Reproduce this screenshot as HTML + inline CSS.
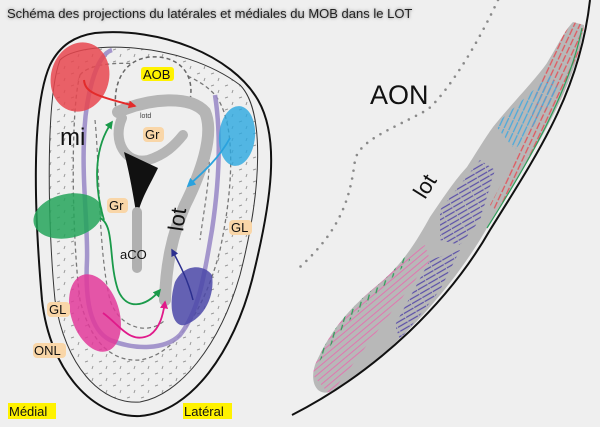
<!DOCTYPE html>
<html><head><meta charset="utf-8"><style>
html,body{margin:0;padding:0;background:#efefef;}
svg{display:block;}
.t{font-family:"Liberation Sans",Arial,sans-serif;}
</style></head><body>
<svg width="600" height="427" viewBox="0 0 600 427" xmlns="http://www.w3.org/2000/svg">
<defs>
<filter id="sh" x="-5%" y="-50%" width="110%" height="200%"><feGaussianBlur stdDeviation="1.6"/></filter>
<pattern id="pr" width="5" height="9" patternUnits="userSpaceOnUse" patternTransform="rotate(25)"><line x1="1" y1="0" x2="1" y2="7" stroke="#e0575e" stroke-width="1.3"/></pattern>
<pattern id="pb" width="5" height="12" patternUnits="userSpaceOnUse" patternTransform="rotate(25)"><line x1="1" y1="0" x2="1" y2="11" stroke="#4aa9dc" stroke-width="1.3"/></pattern>
<pattern id="pp" width="4.5" height="12" patternUnits="userSpaceOnUse" patternTransform="rotate(60)"><line x1="1" y1="0" x2="1" y2="11" stroke="#5a4fa8" stroke-width="1.2"/></pattern>
<pattern id="pg" width="6" height="9" patternUnits="userSpaceOnUse" patternTransform="rotate(15)"><line x1="1" y1="0" x2="1" y2="6" stroke="#2e9e5a" stroke-width="1.3"/></pattern>
<pattern id="pm" width="12" height="5" patternUnits="userSpaceOnUse" patternTransform="rotate(-40)"><line x1="0" y1="1" x2="12" y2="1" stroke="#e077b0" stroke-width="1"/></pattern>
<pattern id="dots" width="14" height="12" patternUnits="userSpaceOnUse"><line x1="1" y1="2" x2="4" y2="1" stroke="#999" stroke-width="1"/><line x1="8" y1="9" x2="9" y2="6" stroke="#999" stroke-width="1"/></pattern>
<marker id="ar" viewBox="0 0 10 10" refX="8" refY="5" markerWidth="4" markerHeight="4" orient="auto"><path d="M0,0L10,5L0,10z" fill="#e32b2b"/></marker>
<marker id="ag" viewBox="0 0 10 10" refX="8" refY="5" markerWidth="4.5" markerHeight="4.5" orient="auto"><path d="M0,0L10,5L0,10z" fill="#1a9a4a"/></marker>
<marker id="ab" viewBox="0 0 10 10" refX="8" refY="5" markerWidth="5" markerHeight="5" orient="auto"><path d="M0,0L10,5L0,10z" fill="#2aa2de"/></marker>
<marker id="am" viewBox="0 0 10 10" refX="8" refY="5" markerWidth="4.5" markerHeight="4.5" orient="auto"><path d="M0,0L10,5L0,10z" fill="#e01a8a"/></marker>
<marker id="an" viewBox="0 0 10 10" refX="8" refY="5" markerWidth="5" markerHeight="5" orient="auto"><path d="M0,0L10,5L0,10z" fill="#2b2f8f"/></marker>
<clipPath id="lotc"><path id="lotp" d="M315,365 C335,320 360,300 380,283 C405,262 420,235 430,217 C445,195 455,180 467,167 C478,150 485,138 493,127 C515,100 535,80 547,63 C558,45 565,30 573,22 L584,25 C577,85 535,150 487,228 C447,298 380,365 330,392 C315,396 310,380 315,365 Z"/></clipPath>
</defs>

<text class="t" x="7" y="18" font-size="13" fill="#777" filter="url(#sh)">Schéma des projections du latérales et médiales du MOB dans le LOT</text>
<text class="t" x="7" y="18" font-size="13" fill="#222">Schéma des projections du latérales et médiales du MOB dans le LOT</text>

<!-- LEFT BULB -->
<path d="M95,33 C160,27 232,55 258,100 C280,138 272,200 252,280 C234,350 192,412 140,416 C94,418 50,372 42,300 C35,220 30,110 50,65 C60,45 75,36 95,33 Z" fill="#efefef" stroke="#111" stroke-width="2"/>
<path d="M60,60 C80,40 180,40 240,85 C265,110 262,190 240,275 C220,345 180,395 140,402 C100,405 65,365 55,300 C48,230 45,100 60,60 Z" fill="url(#dots)" stroke="#333" stroke-width="1"/>
<path d="M80,75 C95,55 185,60 215,95 C235,120 235,180 220,250 C205,310 175,355 140,360 C110,362 90,340 80,300 C72,240 70,110 80,75 Z" fill="#efefef" stroke="#777" stroke-width="1.3" stroke-dasharray="4,3"/>
<path d="M118,120 C110,90 120,60 150,57 C180,55 195,75 190,100" fill="#efefef" stroke="#666" stroke-width="1.5" stroke-dasharray="4,3"/>
<path d="M95,120 C100,170 98,250 110,300 C120,330 150,335 165,320" fill="none" stroke="#777" stroke-width="1.2" stroke-dasharray="4,3"/>
<path d="M205,120 C215,160 205,200 200,240" fill="none" stroke="#777" stroke-width="1.2" stroke-dasharray="4,3"/>

<path d="M112,50 C95,55 85,100 84,140 C82,180 88,230 87,260 C85,300 90,330 110,340 C135,350 165,350 180,335 C200,310 205,270 212,230 C218,190 222,140 215,95" fill="none" stroke="#9b8cc8" stroke-width="4.5" opacity="0.9"/>

<path d="M118,112 C150,98 190,95 205,112 C215,135 200,175 185,205 C172,235 166,265 165,300" fill="none" stroke="#b5b5b5" stroke-width="12" stroke-linecap="round"/>
<path d="M122,118 C112,140 125,165 148,160 C165,155 175,145 183,135" fill="none" stroke="#b5b5b5" stroke-width="10" stroke-linecap="round"/>
<path d="M124,152 L158,168 C150,185 140,200 137,218 C134,200 130,175 124,152 Z" fill="#111"/>
<path d="M137,212 L137,268" stroke="#b0b0b0" stroke-width="10" stroke-linecap="round"/>

<ellipse cx="80" cy="77" rx="29" ry="35" transform="rotate(15 80 77)" fill="#e8474f" opacity="0.85"/>
<ellipse cx="68" cy="216" rx="35" ry="22" transform="rotate(-12 68 216)" fill="#25a55a" opacity="0.85"/>
<ellipse cx="237" cy="136" rx="18" ry="30" transform="rotate(5 237 136)" fill="#2aa8e0" opacity="0.8"/>
<ellipse cx="95" cy="313" rx="24" ry="40" transform="rotate(-18 95 313)" fill="#e23a9a" opacity="0.85"/>
<path d="M175,282 C185,262 205,265 212,275 C215,295 205,318 185,325 C172,328 168,305 175,282 Z" fill="#4b48a8" opacity="0.85"/>

<path d="M84,80 C85,92 95,96 135,106" fill="none" stroke="#e32b2b" stroke-width="2" marker-end="url(#ar)"/>
<path d="M104,220 C95,190 92,150 112,122" fill="none" stroke="#1a9a4a" stroke-width="1.8" marker-end="url(#ag)"/>
<path d="M100,218 C115,225 108,260 118,290 C126,310 145,308 160,290" fill="none" stroke="#1a9a4a" stroke-width="1.8" marker-end="url(#ag)"/>
<path d="M230,138 C218,160 200,175 188,186" fill="none" stroke="#2aa2de" stroke-width="1.8" marker-end="url(#ab)"/>
<path d="M103,313 C120,325 130,345 150,335 C160,328 163,315 165,302" fill="none" stroke="#e01a8a" stroke-width="1.8" marker-end="url(#am)"/>
<path d="M193,300 C188,280 180,265 172,250" fill="none" stroke="#2b2f8f" stroke-width="1.5" marker-end="url(#an)"/>

<rect x="141" y="67" width="33" height="14" rx="3" fill="#fff200"/>
<text class="t" x="143" y="79" font-size="13" fill="#111">AOB</text>
<text class="t" x="140" y="118" font-size="7" fill="#444">lotd</text>
<rect x="143" y="127" width="21" height="15" rx="4" fill="#f9d6a8"/>
<text class="t" x="145" y="139" font-size="13" fill="#111">Gr</text>
<rect x="107" y="198" width="21" height="15" rx="4" fill="#f9d6a8"/>
<text class="t" x="109" y="210" font-size="13" fill="#111">Gr</text>
<text class="t" x="60" y="145" font-size="24" fill="#111">mi</text>
<text class="t" x="120" y="259" font-size="13" fill="#111">aCO</text>
<text class="t" x="0" y="0" font-size="22" fill="#111" transform="translate(183,232) rotate(-82)">lot</text>
<rect x="229" y="220" width="23" height="15" rx="4" fill="#f9d6a8"/>
<text class="t" x="231" y="232" font-size="13" fill="#111">GL</text>
<rect x="47" y="302" width="23" height="15" rx="4" fill="#f9d6a8"/>
<text class="t" x="49" y="314" font-size="13" fill="#111">GL</text>
<rect x="33" y="343" width="33" height="15" rx="4" fill="#f9d6a8"/>
<text class="t" x="34" y="355" font-size="13" fill="#111">ONL</text>
<rect x="8" y="403" width="48" height="16" fill="#fff200"/>
<text class="t" x="9" y="416" font-size="13" fill="#111">Médial</text>
<rect x="183" y="403" width="49" height="16" fill="#fff200"/>
<text class="t" x="184" y="416" font-size="13" fill="#111">Latéral</text>

<!-- RIGHT -->
<path d="M498,0 C470,60 440,100 427,110 C390,130 360,140 355,160 C350,200 340,230 300,267" fill="none" stroke="#8a8a8a" stroke-width="2.6" stroke-dasharray="0,8" stroke-linecap="round"/>
<path d="M315,365 C335,320 360,300 380,283 C405,262 420,235 430,217 C445,195 455,180 467,167 C478,150 485,138 493,127 C515,100 535,80 547,63 C558,45 565,30 573,22 L584,25 C577,85 535,150 487,228 C447,298 380,365 330,392 C315,396 310,380 315,365 Z" fill="#b8b8b8"/>
<g clip-path="url(#lotc)">
<path d="M535,95 L565,15 L600,20 L585,60 L560,130 L500,215 L490,205 L530,130 Z" fill="url(#pr)"/>
<path d="M495,125 L550,75 L560,90 L515,150 Z" fill="url(#pb)"/>
<path d="M440,210 L480,160 L495,170 L480,220 L460,245 L440,240 Z" fill="url(#pp)"/>
<path d="M395,325 L430,260 L460,250 L440,290 L400,340 Z" fill="url(#pp)"/>
<path d="M300,360 L380,275 L425,245 L430,260 L330,395 Z" fill="url(#pm)"/>
<path d="M300,360 L340,310 L405,245 L410,260 L345,325 L310,375 Z" fill="url(#pg)"/>
</g>
<path d="M487,228 C530,160 570,90 582,28" fill="none" stroke="#2e9e5a" stroke-width="1.2"/>
<path d="M292,415 C380,370 450,300 490,230 C540,150 580,90 590,0" fill="none" stroke="#111" stroke-width="2"/>
<text class="t" x="370" y="104" font-size="27" fill="#111">AON</text>
<text class="t" x="0" y="0" font-size="22" fill="#111" transform="translate(425,200) rotate(-58)">lot</text>
</svg>
</body></html>
